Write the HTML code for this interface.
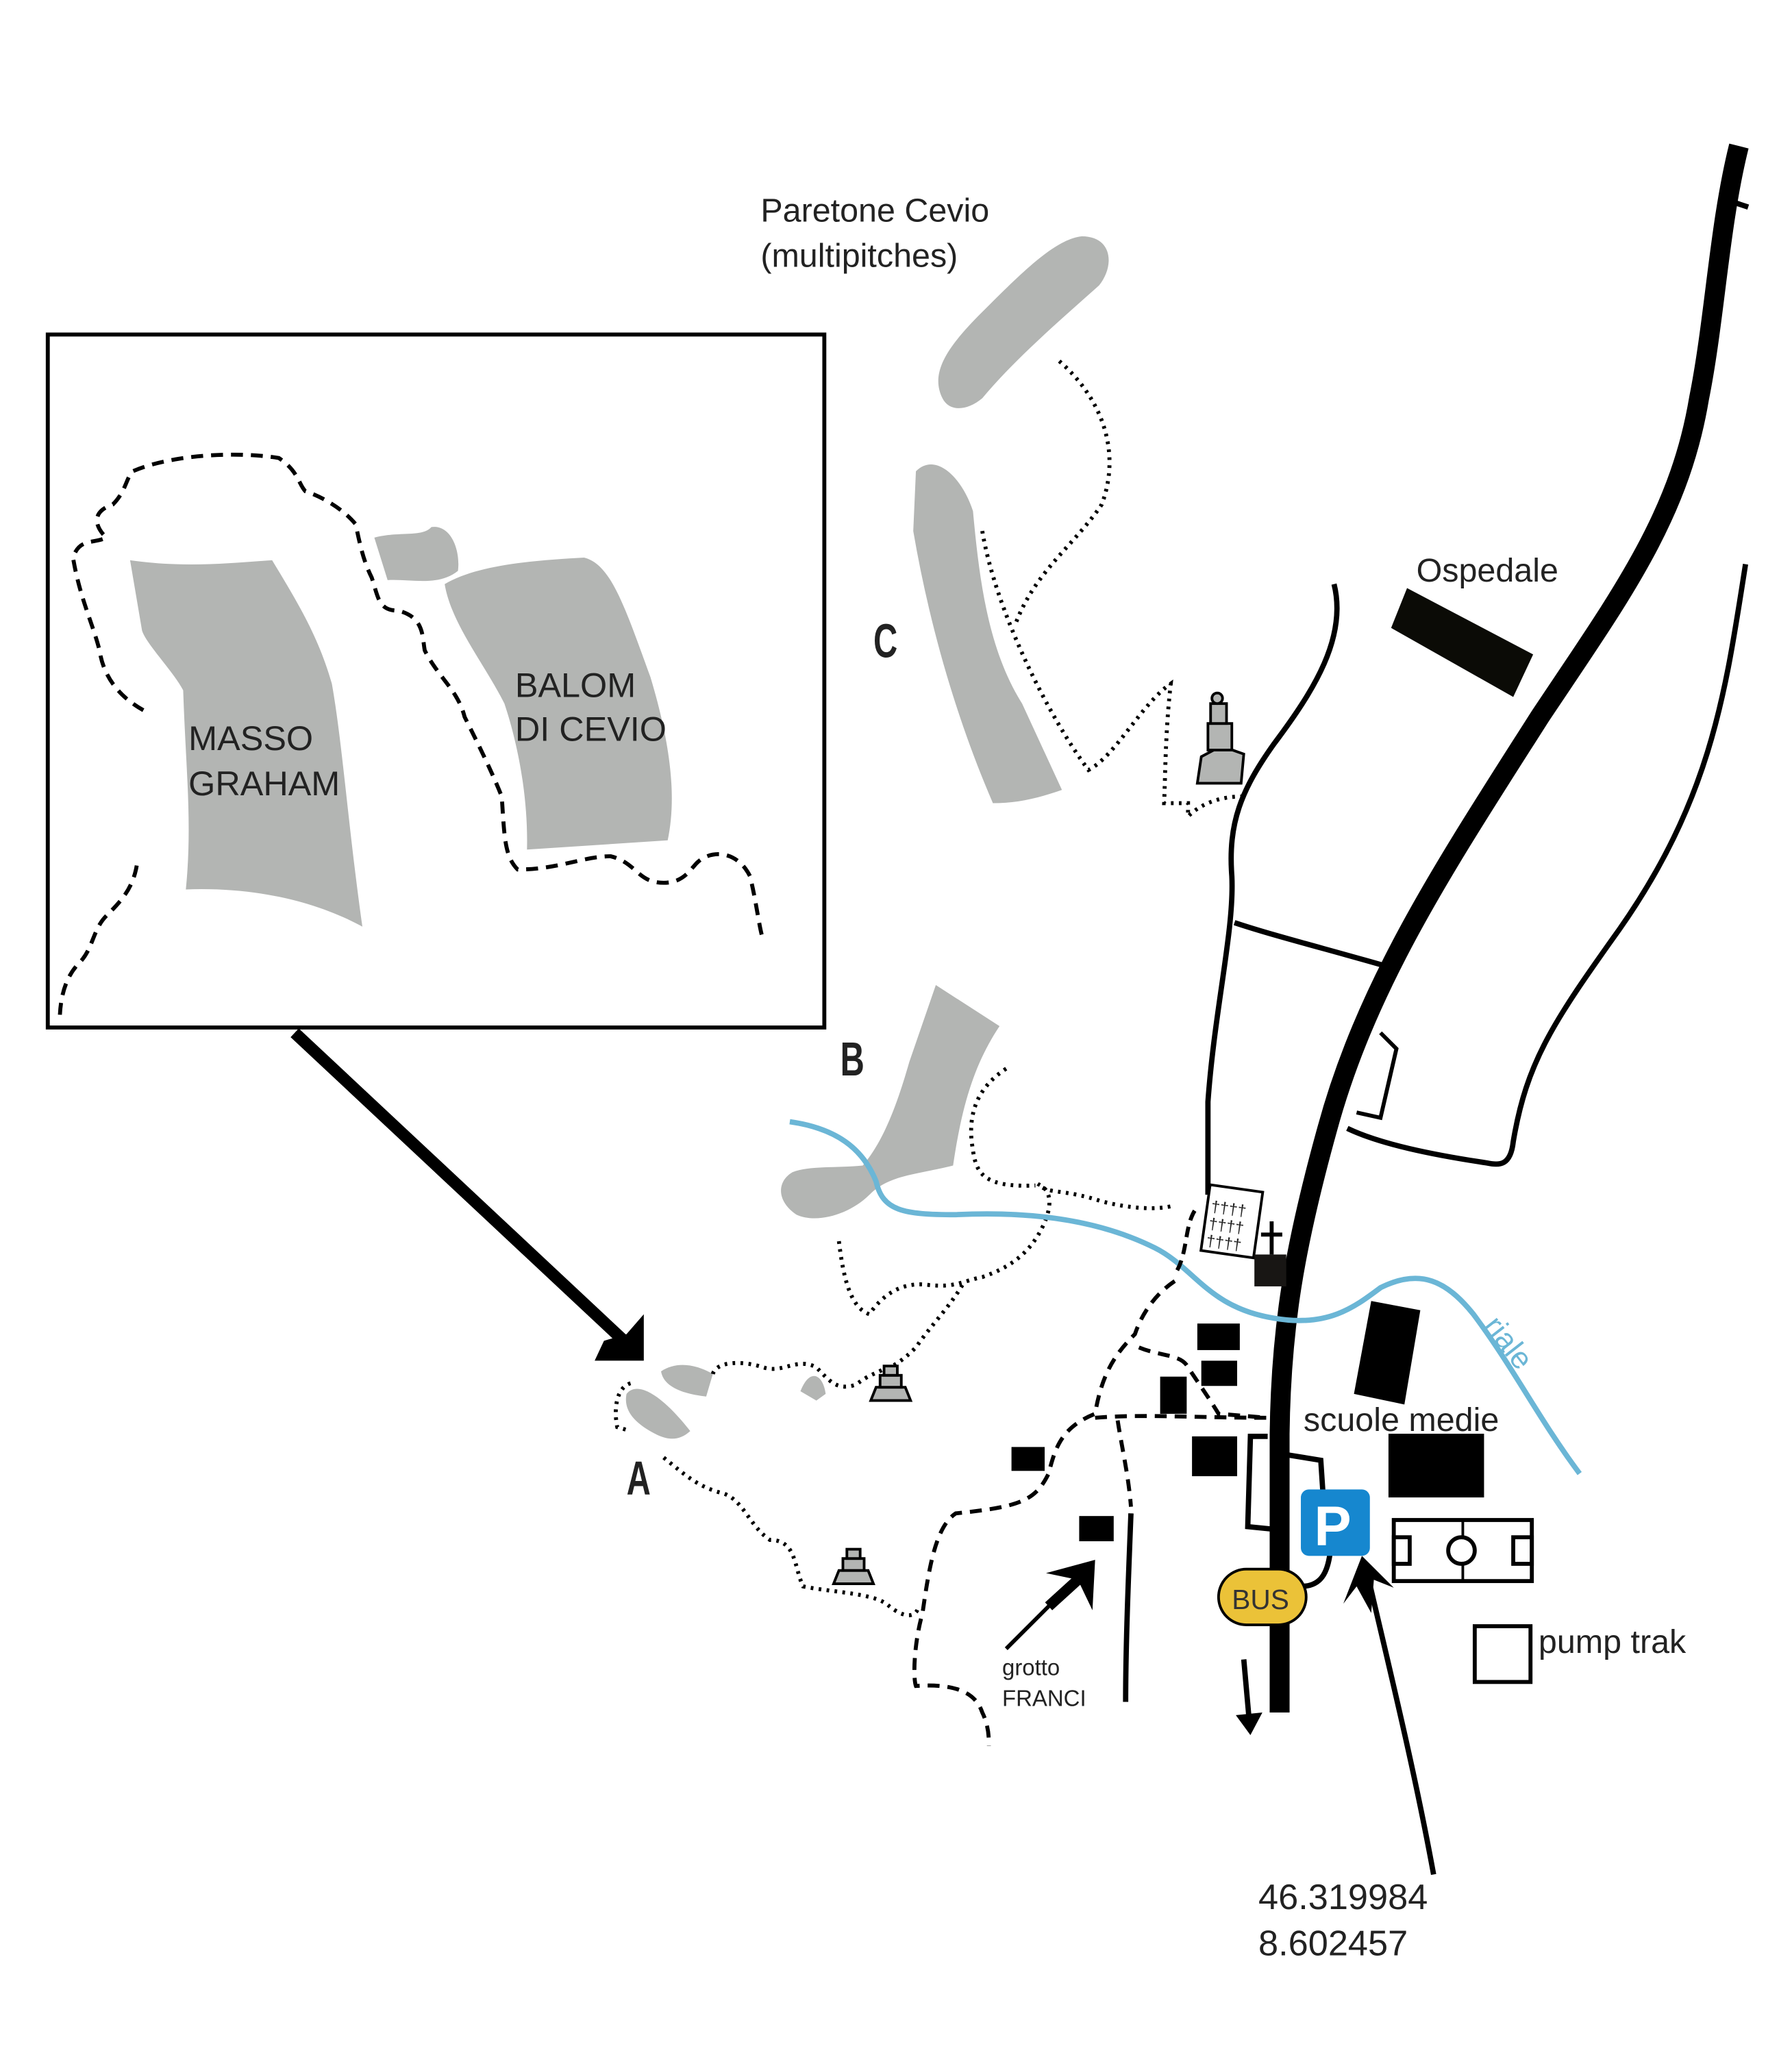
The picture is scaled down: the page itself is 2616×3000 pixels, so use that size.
<!DOCTYPE html>
<html><head><meta charset="utf-8"><style>
html,body{margin:0;padding:0;background:#fff;}
svg{display:block;}
text{font-family:"Liberation Sans",sans-serif;fill:#222;font-weight:normal;}
</style></head><body>
<svg width="2616" height="3000" viewBox="0 0 1350 1548" preserveAspectRatio="none" xmlns="http://www.w3.org/2000/svg">
<rect width="1350" height="1548" fill="#fff"/>
<path d="M1310,110 C1295,170 1292,240 1280,300 C1265,390 1220,450 1160,540 C1090,650 1030,740 1000,850 C975,940 965,1000 964,1080 L964,1290" fill="none" stroke="#000" stroke-width="15"/>
<path d="M1305,152 L1317,156" stroke="#000" stroke-width="4"/>
<path d="M1315,425 C1300,520 1290,600 1220,700 C1170,770 1150,800 1140,860 C1138,878 1130,878 1120,876 C1080,870 1040,862 1015,850" fill="none" stroke="#000" stroke-width="4"/>
<path d="M1040,778 L1052,790 L1040,842 L1022,838" fill="none" stroke="#000" stroke-width="3"/>
<path d="M1005,440 C1015,480 990,520 960,560 C935,595 925,620 928,660 C930,700 915,760 910,830 L910,900" fill="none" stroke="#000" stroke-width="4"/>
<path d="M930,695 C960,705 1000,715 1045,728" fill="none" stroke="#000" stroke-width="4"/>
<polygon points="1060,443 1155,493 1140,525 1048,473" fill="#0b0b06"/>
<text x="1067" y="438" font-size="25">Ospedale</text>
<text x="573" y="167" font-size="25">Paretone Cevio</text>
<text x="573" y="201" font-size="25">(multipitches)</text>
<path d="M710,300 C700,280 715,260 740,235 C770,205 795,180 815,178 C838,178 840,200 828,215 C800,240 765,270 740,300 C728,310 715,310 710,300Z" fill="#b3b5b3"/>
<path d="M690,355 C705,340 725,360 733,385 C738,440 745,490 770,530 L800,595 C780,602 765,605 748,605 C720,540 700,470 688,400Z" fill="#b3b5b3"/>
<text x="0" y="0" font-size="36" style="font-weight:bold" transform="translate(658,495) scale(0.7,1)">C</text>
<path d="M798,272 C830,300 845,340 830,380 C810,410 780,430 765,470" fill="none" stroke="#000" stroke-width="3" stroke-dasharray="2,4"/>
<path d="M740,400 C750,460 790,540 820,580 C840,570 860,530 882,515 C878,550 878,580 877,605 L895,605 L895,615 C905,605 920,600 935,600" fill="none" stroke="#000" stroke-width="3" stroke-dasharray="2,4"/>
<g fill="#b3b5b3" stroke="#000" stroke-width="2"><path d="M902,590 L935,590 L937,568 L920,562 L905,570Z"/><rect x="910" y="545" width="18" height="20"/><rect x="912" y="530" width="12" height="15"/><circle cx="917" cy="526" r="4"/></g>
<rect x="36" y="252" width="585" height="522" fill="none" stroke="#000" stroke-width="3"/>
<path d="M98,422 C140,428 175,424 205,422 C225,455 240,480 250,515 C258,560 262,620 273,698 C240,680 195,668 140,670 C145,620 140,580 138,520 C130,505 110,485 107,475 Z" fill="#b3b5b3"/>
<path d="M335,440 C360,425 405,422 440,420 C460,425 470,455 490,510 C505,560 510,600 503,633 L397,640 C398,600 390,560 380,530 C365,500 340,470 335,440Z" fill="#b3b5b3"/>
<path d="M282,405 C300,400 318,405 325,397 C340,395 347,415 345,430 C330,442 310,436 292,437 Z" fill="#b3b5b3"/>
<text x="142" y="565" font-size="26">MASSO</text>
<text x="142" y="599" font-size="26">GRAHAM</text>
<text x="388" y="525" font-size="26">BALOM</text>
<text x="388" y="558" font-size="26">DI CEVIO</text>
<g fill="none" stroke="#000" stroke-width="3" stroke-dasharray="9,6">
<path d="M108,535 C90,525 78,510 75,490 C70,470 60,450 55,420 C60,405 70,410 80,405 C70,395 70,385 85,380 C95,370 95,360 100,355 C130,342 180,340 210,345 C225,355 225,365 230,370 C245,375 260,385 268,395 C272,415 275,425 280,435 C285,450 285,460 300,460 C320,465 318,480 320,490 C330,510 345,520 350,540 C360,560 370,580 378,600 C380,630 380,645 390,655 C420,655 440,645 460,645 C480,650 480,665 500,665 C515,665 520,655 525,650 C535,640 555,640 565,660 C570,680 572,700 575,708"/>
<path d="M103,652 C100,670 90,680 80,690 C70,700 70,715 60,725 C50,735 45,750 45,770"/>
</g>
<path d="M222,778 L470,1010" stroke="#000" stroke-width="9"/>
<polygon points="485,990 485,1025 448,1025 455,1010 472,1005" fill="#000"/>
<path d="M498,1033 C510,1025 525,1028 537,1035 L532,1052 C515,1050 500,1045 498,1033Z" fill="#b3b5b3"/>
<path d="M472,1050 C480,1040 498,1050 520,1078 C510,1087 500,1085 485,1075 C475,1068 470,1060 472,1050Z" fill="#b3b5b3"/>
<path d="M603,1048 C610,1030 620,1035 622,1050 L615,1055Z" fill="#b3b5b3"/>
<text x="0" y="0" font-size="36" style="font-weight:bold" transform="translate(472,1126) scale(0.7,1)">A</text>
<g fill="none" stroke="#000" stroke-width="3" stroke-dasharray="2,4">
<path d="M475,1042 C465,1045 462,1060 465,1075 L475,1078"/>
<path d="M537,1035 C540,1025 560,1025 575,1030 C590,1035 600,1022 615,1030 C625,1040 630,1048 645,1043 C655,1035 660,1035 668,1030"/>
<path d="M500,1098 C515,1110 525,1120 545,1125 C560,1130 565,1150 580,1160 C600,1160 598,1180 605,1195 C630,1200 660,1200 670,1210 C680,1218 690,1220 692,1210"/>
<path d="M632,935 C635,960 640,985 655,990 C665,975 680,965 700,968 C720,970 725,965 740,962 C760,955 775,945 785,925 C795,905 790,895 782,892 C790,900 800,895 830,905 C850,910 870,912 885,908"/>
<path d="M758,805 C735,820 730,840 732,860 C735,880 735,895 780,893"/>
<path d="M725,968 C715,985 700,1000 690,1015 C680,1025 672,1030 668,1030"/>
</g>
<path d="M705,742 L753,773 C735,800 725,830 718,878 C690,885 670,885 655,900 C640,915 615,922 600,915 C585,905 585,890 597,883 C610,878 630,880 650,878 C665,860 675,835 685,800 Z" fill="#b3b5b3"/>
<text x="0" y="0" font-size="36" style="font-weight:bold" transform="translate(633,810) scale(0.7,1)">B</text>
<path d="M595,845 C630,850 650,865 660,890 C665,912 680,915 720,915 C780,912 830,920 870,940 C900,955 910,985 960,993 C1000,1000 1020,985 1040,970 C1070,955 1090,965 1110,990 C1140,1030 1160,1070 1190,1110" fill="none" stroke="#6bb6d6" stroke-width="4"/>
<text x="1117" y="999" font-size="23" style="fill:#6bb6d6" transform="rotate(52 1117 999)">riale</text>
<g transform="rotate(8 928 920)"><rect x="908" y="895" width="40" height="50" fill="#fff" stroke="#000" stroke-width="2"/>
<text x="911" y="915" font-size="12">††††</text><text x="911" y="928" font-size="12">††††</text><text x="911" y="941" font-size="12">††††</text></g>
<path d="M900,912 C892,925 895,945 885,960" fill="none" stroke="#000" stroke-width="3" stroke-dasharray="8,5"/>
<rect x="945" y="945" width="24" height="24" fill="#181614"/>
<path d="M958,920 L958,945 M950,930 L966,930" stroke="#000" stroke-width="3"/>
<rect x="902" y="997" width="32" height="20" fill="#000"/>
<rect x="905" y="1025" width="27" height="19" fill="#000"/>
<rect x="874" y="1037" width="20" height="28" fill="#000"/>
<rect x="898" y="1082" width="34" height="30" fill="#000"/>
<rect x="762" y="1090" width="25" height="18" fill="#000"/>
<rect x="813" y="1142" width="26" height="19" fill="#000"/>
<polygon points="1033,980 1070,987 1058,1058 1020,1050" fill="#000"/>
<rect x="1046" y="1080" width="72" height="48" fill="#000"/>
<text x="982" y="1078" font-size="25">scuole medie</text>
<g fill="none" stroke="#000" stroke-width="3" stroke-dasharray="9,6">
<path d="M885,965 C870,975 860,990 855,1005 C840,1020 830,1035 825,1065 C800,1075 795,1090 790,1110 C780,1130 770,1135 720,1140 C705,1150 700,1180 695,1215 C688,1240 688,1265 690,1270 C720,1268 735,1275 740,1290 C745,1300 745,1310 745,1315"/>
<path d="M858,1015 C875,1022 890,1020 895,1030 C905,1045 912,1055 918,1065 L955,1068"/>
<path d="M825,1068 C860,1065 900,1068 958,1068"/>
<path d="M842,1070 C845,1090 850,1110 852,1135"/>
</g>
<path d="M852,1140 C850,1190 848,1240 848,1282" fill="none" stroke="#000" stroke-width="4"/>
<path d="M758,1242 L812,1188" stroke="#000" stroke-width="3"/>
<polygon points="825,1175 823,1213 812,1190 788,1185" fill="#000"/>
<path d="M812,1190 L790,1210" stroke="#000" stroke-width="8"/>
<text x="755" y="1262" font-size="17">grotto</text>
<text x="755" y="1285" font-size="17">FRANCI</text>
<path d="M955,1082 L942,1082 L940,1150 L960,1152 M964,1095 L995,1100 L997,1130" fill="none" stroke="#000" stroke-width="4"/>
<path d="M980,1195 C995,1195 1000,1185 1002,1170" fill="none" stroke="#000" stroke-width="4"/>
<rect x="980" y="1122" width="52" height="50" rx="6" fill="#1687cf"/>
<text x="990" y="1164" font-size="42" style="fill:#fff;font-weight:bold">P</text>
<rect x="918" y="1182" width="66" height="42" rx="21" fill="#ebc238" stroke="#000" stroke-width="2"/>
<text x="928" y="1212" font-size="21" style="fill:#333">BUS</text>
<path d="M937,1250 L941,1295" stroke="#000" stroke-width="4"/>
<polygon points="931,1292 951,1290 942,1307" fill="#000"/>
<path d="M1080,1412 C1065,1330 1045,1250 1030,1185" stroke="#000" stroke-width="4" fill="none"/>
<polygon points="1012,1208 1026,1172 1050,1196 1035,1190 1033,1215 1022,1195" fill="#000"/>
<text x="948" y="1438" font-size="27">46.319984</text>
<text x="948" y="1473" font-size="27">8.602457</text>
<rect x="1050" y="1145" width="104" height="46" fill="none" stroke="#000" stroke-width="3"/>
<line x1="1102" y1="1145" x2="1102" y2="1191" stroke="#000" stroke-width="2"/>
<circle cx="1101" cy="1168" r="10" fill="#fff" stroke="#000" stroke-width="3"/>
<rect x="1050" y="1158" width="12" height="20" fill="none" stroke="#000" stroke-width="3"/>
<rect x="1140" y="1158" width="14" height="20" fill="none" stroke="#000" stroke-width="3"/>
<rect x="1111" y="1225" width="42" height="42" fill="none" stroke="#000" stroke-width="3"/>
<text x="1159" y="1245" font-size="25">pump trak</text>
<g fill="#b3b5b3" stroke="#000" stroke-width="2">
<path d="M656,1055 L686,1055 L682,1045 L660,1045Z"/><rect x="663" y="1036" width="16" height="9"/><rect x="666" y="1029" width="10" height="7"/>
<path d="M628,1193 L658,1193 L654,1183 L632,1183Z"/><rect x="635" y="1174" width="16" height="9"/><rect x="638" y="1167" width="10" height="7"/>
</g>
</svg>
</body></html>
